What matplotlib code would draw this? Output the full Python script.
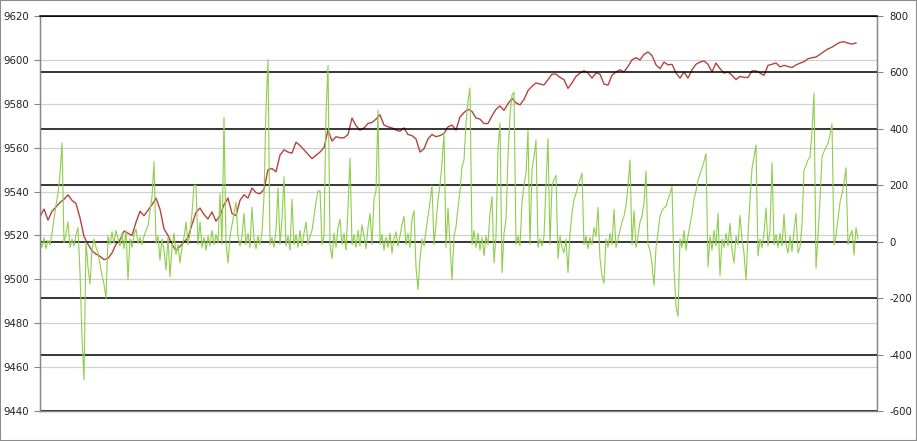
import numpy as np
import matplotlib.pyplot as plt
from matplotlib.patches import Rectangle

plt.rcParams['axes.unicode_minus'] = False

# цена (левая ось), одно значение на каждые 2 шага индекса
price = [
    9528.5, 9532, 9527, 9531, 9533, 9535, 9536.5, 9538.5, 9536, 9534.5,
    9528, 9519.5, 9516, 9513, 9511.5, 9510.5, 9509, 9509.5, 9512, 9516,
    9518, 9522, 9521, 9520, 9526, 9531, 9529, 9531.5, 9534, 9537,
    9532, 9523, 9520, 9516, 9513, 9515, 9517, 9519, 9525, 9530.5,
    9532.5, 9529.5, 9527.5, 9530.7, 9526.5, 9529, 9534, 9537, 9530, 9529,
    9536, 9538.5, 9537, 9541.6, 9539.5, 9539, 9541, 9550, 9550.5, 9549,
    9556.6, 9559, 9558, 9557.5, 9562.5, 9561, 9559, 9557, 9555, 9556.5,
    9558, 9560, 9568, 9563, 9565, 9564.5, 9564.5, 9566, 9573.5, 9570,
    9568, 9569, 9571, 9571.5, 9573, 9575, 9570.3, 9569.5, 9569, 9568,
    9567.5, 9569, 9566, 9565.5, 9564, 9558, 9559.5, 9564, 9566, 9565,
    9565.5, 9566.5, 9569.5, 9570.3, 9568, 9574, 9576, 9577.5, 9576.5, 9573.5,
    9573, 9571, 9571, 9574.5, 9577.5, 9579, 9577, 9580, 9582.5, 9580.4,
    9579.5, 9582, 9586, 9588, 9589.5, 9589, 9588.6, 9591, 9593.5, 9593.5,
    9592, 9591, 9587, 9589.5, 9592.5, 9594, 9595, 9594, 9591.7, 9594,
    9593.5, 9589, 9588.5, 9593, 9594.5, 9595.5, 9594.5, 9597, 9600, 9601,
    9600, 9602.5, 9603.6, 9602, 9597.7, 9596, 9599, 9597.7, 9598, 9594,
    9591.7, 9594.5, 9591.7, 9595.5, 9598, 9599, 9599.5, 9598, 9594.5, 9598.6,
    9596, 9594, 9594.5, 9593, 9591, 9592.5, 9592, 9592, 9595, 9595,
    9594, 9593, 9597.5, 9598, 9598.6, 9596.8, 9597.5, 9597, 9596.5, 9597.7,
    9598.5, 9599.2, 9600.5, 9601, 9601.3, 9602.5, 9603.8, 9605, 9605.8, 9607,
    9608, 9608.3, 9607.6, 9607.2, 9607.7,
]

# спред (правая ось)
spread = [
    10, -20, 15, -25, 5, -10, 30, 80, 130, 170,
    240, 350, -5, 30, 70, -20, 10, -15, 25, 50,
    -110, -340, -490, 0, -90, -150, -30, 10, -20, -40,
    -80, -120, -150, -200, 20, -10, 35, -5, 40, 10,
    -15, 30, -25, 40, -135, 10, -20, 25, 45, -5,
    15, -10, 20, 40, 55, 110, 160, 283, -5, 20,
    -65, 10, -30, -100, 15, -125, -20, 30, -45, -10,
    -75, -20, 15, 70, -10, 30, 100, 200, 200, -10,
    70, -20, 15, -30, 20, -15, 40, -10, 25, -5,
    170, -10, 440, -5, -75, 20, 60, 100, 140, 20,
    -15, 20, 100, -10, 30, -20, 122, 10, -25, 20,
    -10, 30, 160, 470, 645, -10, 15, -20, 40, 190,
    -10, 80, 230, -15, 20, -30, 150, -10, 25, -20,
    40, -15, 30, 70, -10, 20, 40, 90, 140, 180,
    180, -10, 20, 450, 625, -10, -60, 30, -20, 50,
    80, -10, 30, -30, 120, 296, -10, 25, -20, 40,
    -15, 60, 20, -25, 50, 100, -10, 150, 180, 467,
    -10, 25, -30, 15, -20, 30, -40, 10, 35, -15,
    20, 60, 90, -10, 30, -20, 80, 110, -90, -170,
    -60, 10, -15, 40, 90, 140, 200, -10, 60, 150,
    200, 280, 385, -20, 120, -10, -135, 20, 52, 120,
    180, 265, 290, 420, 500, 545, -10, 40, -20, 30,
    -30, 15, -50, 20, -10, 100, 160, -75, 20, 330,
    420, -110, 30, 80, 300, 450, 520, 530, -10, 20,
    -15, 140, 200, 243, 395, -10, 254, 300, 360, -20,
    10, -15, 20, 200, 366, -10, 200, 220, 235, -60,
    20, -20, -40, 10, -110, 30, 100, 150, 170, 200,
    220, 243, -10, 20, -25, 15, -10, 50, 20, 122,
    -60, -120, -147, 10, -20, 30, -10, 115, -20, 10,
    40, 70, 90, 130, 195, 290, -10, 110, -20, 20,
    70, 90, 140, 250, -10, -30, -80, -155, -20, 30,
    90, 110, 120, 125, 150, 170, 195, -100, -230, -265,
    10, -20, 40, -30, 20, 60, 100, 150, 180, 218,
    240, 260, 285, 313, -90, 20, -30, 40, -15, 100,
    -120, 10, -20, 30, -15, 65, -30, -75, 20, -10,
    93, 10, -40, -135, 20, 150, 260, 300, 343, -50,
    10, -20, 30, 120, -15, 40, 280, -10, 25, -20,
    30, -15, 97, -10, -40, 20, -35, 40, 100, -40,
    -20, 60, 254, 270, 290, 300, 390, 527, -94, 20,
    150, 300, 320, 335, 348, 380, 418, -12, 20, 80,
    140, 170, 207, 262, -10, 20, 40, -47, 50, 10,
]

left_ticks = np.arange(9440, 9621, 20)
right_ticks = np.arange(-600, 801, 200)

t_spread = np.arange(len(spread))
t_price = np.arange(len(price)) * 2

fig = plt.figure(figsize=(9.17, 4.41), dpi=100)
ax = fig.add_axes([40 / 917, 30 / 441, 837 / 917, 395 / 441])
ax2 = ax.twinx()

ax.plot(t_price, price, color='#b4443f', lw=1.0)
ax2.plot(t_spread, spread, color='#8fce4c', lw=0.8)

ax.set_xlim(0, 418.5)
ax.set_ylim(9440, 9620)
ax2.set_ylim(-600, 800)
ax.set_yticks(left_ticks)
ax2.set_yticks(right_ticks)
ax.set_xticks([])

# сетка: серая по левой оси, чёрная по правой
ax.grid(axis='y', color='#d0d0d0', lw=0.9)
ax2.grid(axis='y', color='black', lw=1.1)

for a in (ax, ax2):
    a.tick_params(axis='y', direction='out', length=4, width=0.8,
                  color='#868686', labelsize=7.3, labelcolor='#222222')
    for s in ('left', 'right', 'bottom'):
        a.spines[s].set_color('#868686')
        a.spines[s].set_linewidth(0.9)
    a.spines['top'].set_visible(False)
ax2.spines['top'].set_visible(True)
ax2.spines['top'].set_color('black')
ax2.spines['top'].set_linewidth(1.1)
ax.tick_params(axis='y', pad=4)
ax2.tick_params(axis='y', pad=5)

fig.patches.append(Rectangle((0, 0), 1, 1, transform=fig.transFigure,
                             fill=False, edgecolor='#8c8c8c', lw=1.5))

fig.savefig('out.png', dpi=100)
